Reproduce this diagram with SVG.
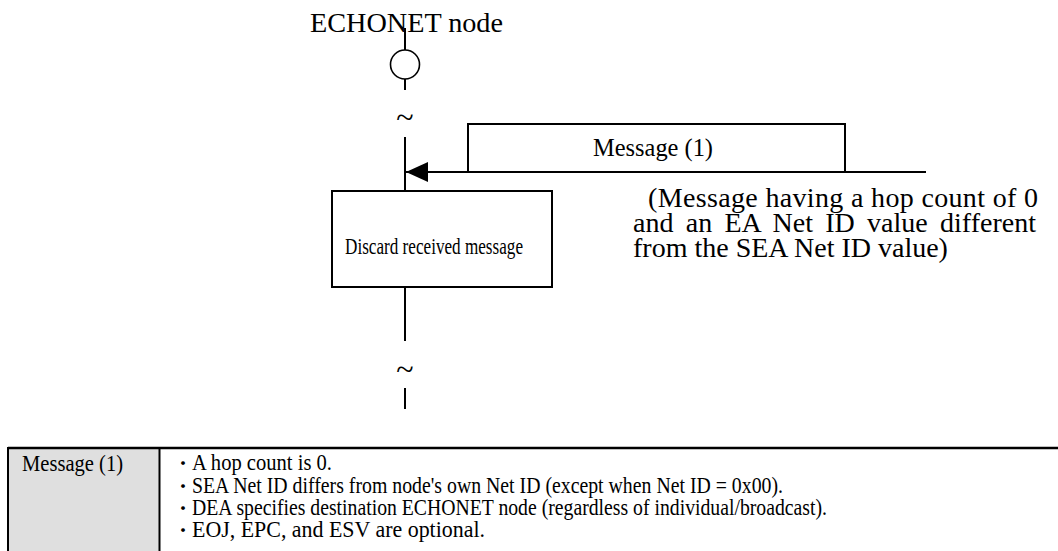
<svg xmlns="http://www.w3.org/2000/svg" width="1058" height="551" viewBox="0 0 1058 551">
  <style>
    .t { font-family: "Liberation Serif", "Noto Sans CJK JP", serif; fill: #000; }
    .ln { stroke: #000; stroke-width: 2; fill: none; }
    .box { stroke: #000; stroke-width: 2; fill: #fff; }
    .row { font-size: 23px; }
    .bul { font-size: 18px; }
  </style>
  <defs>
    <marker id="arr" viewBox="0 0 22 20" refX="22" refY="10" markerWidth="22" markerHeight="20" markerUnits="userSpaceOnUse" orient="auto">
      <path d="M0,0 L22,10 L0,20 Z" fill="#000"/>
    </marker>
  </defs>
  <rect width="1058" height="551" fill="#fff"/>

  <g id="connectors">
    <line class="ln" x1="405" y1="28" x2="405" y2="50"/>
    <line class="ln" x1="405" y1="79" x2="405" y2="90"/>
    <text class="t" x="405" y="128" font-size="32" text-anchor="middle">~</text>
    <line class="ln" x1="405" y1="137" x2="405" y2="191"/>
    <line class="ln" x1="405" y1="287" x2="405" y2="341"/>
    <text class="t" x="405" y="380" font-size="32" text-anchor="middle">~</text>
    <line class="ln" x1="405" y1="388" x2="405" y2="409"/>
    <line class="ln" x1="926" y1="172" x2="406" y2="172" marker-end="url(#arr)"/>
  </g>

  <g id="echonet-node">
    <text class="t" x="310" y="32" font-size="28" textLength="193" lengthAdjust="spacingAndGlyphs">ECHONET node</text>
    <circle cx="405" cy="64.5" r="14.5" fill="#fff" stroke="#000" stroke-width="1.6"/>
  </g>

  <g id="message-box">
    <polyline class="ln" points="468,172 468,124 845,124 845,172"/>
    <text class="t" x="593" y="156" font-size="26" textLength="120" lengthAdjust="spacingAndGlyphs">Message (1)</text>
  </g>

  <g id="discard-box">
    <rect class="box" x="332" y="191" width="220" height="96"/>
    <text class="t" x="345" y="254" font-size="24" textLength="178" lengthAdjust="spacingAndGlyphs">Discard received message</text>
  </g>

  <g id="annotation">
    <text class="t" x="648" y="207" font-size="28" textLength="390" lengthAdjust="spacing">(Message having a hop count of 0</text>
    <text class="t" x="633" y="232" font-size="28" word-spacing="5.3">and an EA Net ID value different</text>
    <text class="t" x="633" y="257" font-size="28">from the SEA Net ID value)</text>
  </g>

  <g id="table">
    <rect x="9" y="448" width="150" height="110" fill="#dfdfdf"/>
    <line x1="8" y1="448" x2="1058" y2="448" stroke="#000" stroke-width="2.5"/>
    <line x1="8" y1="447" x2="8" y2="551" stroke="#000" stroke-width="2"/>
    <line x1="159.5" y1="448" x2="159.5" y2="551" stroke="#000" stroke-width="2"/>
    <text class="t row" x="22" y="471" textLength="101" lengthAdjust="spacingAndGlyphs">Message (1)</text>
    <text class="t bul" x="174" y="470">・</text>
    <text class="t row" x="192" y="470" textLength="140" lengthAdjust="spacingAndGlyphs">A hop count is 0.</text>
    <text class="t bul" x="174" y="493">・</text>
    <text class="t row" x="192" y="493" textLength="591" lengthAdjust="spacingAndGlyphs">SEA Net ID differs from node's own Net ID (except when Net ID = 0x00).</text>
    <text class="t bul" x="174" y="515">・</text>
    <text class="t row" x="192" y="515" textLength="635" lengthAdjust="spacingAndGlyphs">DEA specifies destination ECHONET node (regardless of individual/broadcast).</text>
    <text class="t bul" x="174" y="537">・</text>
    <text class="t row" x="192" y="537" textLength="293" lengthAdjust="spacingAndGlyphs">EOJ, EPC, and ESV are optional.</text>
  </g>
</svg>
